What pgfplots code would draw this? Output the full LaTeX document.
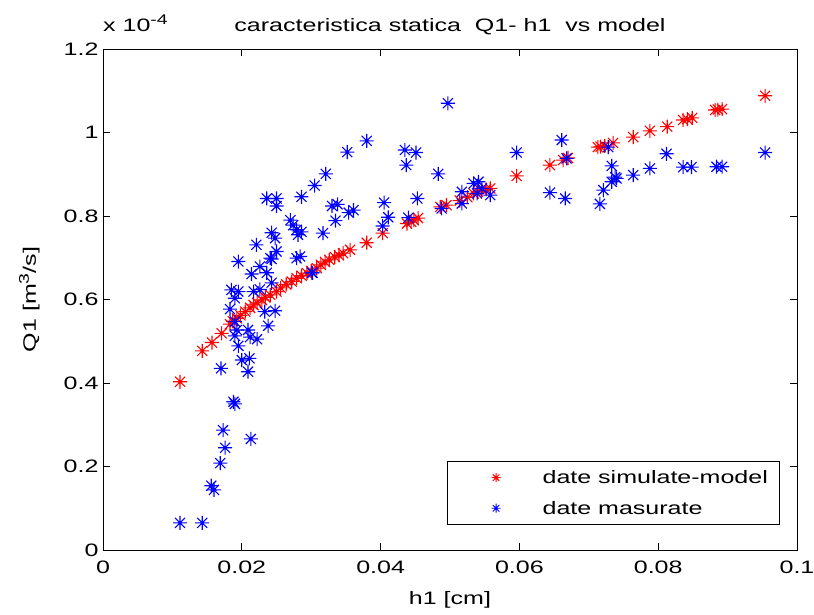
\documentclass[border=0pt]{standalone}
\usepackage{fontspec}
\setmainfont{Liberation Sans}[FakeStretch=1.39]
\usepackage{pgfplots}
\pgfplotsset{compat=1.18}

\newcommand{\fs}{\fontsize{18}{21}\selectfont}
\newcommand{\supr}[1]{\raisebox{7pt}{\fontsize{14}{14}\selectfont #1}}

% MATLAB style asterisk: plus and cross
\pgfdeclareplotmark{mstar}{%
  \pgfpathmoveto{\pgfqpoint{-\pgfplotmarksize}{0pt}}%
  \pgfpathlineto{\pgfqpoint{\pgfplotmarksize}{0pt}}%
  \pgfpathmoveto{\pgfqpoint{0pt}{-\pgfplotmarksize}}%
  \pgfpathlineto{\pgfqpoint{0pt}{\pgfplotmarksize}}%
  \pgfpathmoveto{\pgfqpoint{-0.72\pgfplotmarksize}{-0.72\pgfplotmarksize}}%
  \pgfpathlineto{\pgfqpoint{0.72\pgfplotmarksize}{0.72\pgfplotmarksize}}%
  \pgfpathmoveto{\pgfqpoint{-0.72\pgfplotmarksize}{0.72\pgfplotmarksize}}%
  \pgfpathlineto{\pgfqpoint{0.72\pgfplotmarksize}{-0.72\pgfplotmarksize}}%
  \pgfusepathqstroke}

\begin{document}
\begin{tikzpicture}
\useasboundingbox (-103pt,-64pt) rectangle (711pt,550pt);
\begin{axis}[
    scale only axis,
    width=694pt, height=501pt,
    xmin=0, xmax=0.1, ymin=0, ymax=1.2,
    clip mode=individual,
    xtick={0,0.02,0.04,0.06,0.08,0.1},
    xticklabels={0,0.02,0.04,0.06,0.08,0.1},
    ytick={0,0.2,0.4,0.6,0.8,1,1.2},
    yticklabels={0,0.2,0.4,0.6,0.8,1,1.2},
    tick align=inside,
    tick pos=both,
    major tick length=7pt,
    axis line style={line width=0.9pt},
    every tick/.style={black, line width=0.9pt},
    every tick label/.append style={font=\fs},
    xticklabel style={yshift=-7pt},
    yticklabel style={xshift=-1pt},
    label style={font=\fs},
    xlabel={h1 [cm]},
    ylabel={Q1 [m\supr{3}/s]},
    xlabel style={at={(axis description cs:0.5,-0.1)}, anchor=center},
    ylabel style={at={(axis description cs:-0.106,0.5)}, anchor=center},
    title={caracteristica statica\ \ Q1- h1\ \ vs model},
    title style={font=\fs, at={(axis description cs:0.5,1)}, anchor=base, yshift=11pt},
    legend cell align=left,
    legend style={
        at={(axis cs:0.0976,0.06)}, anchor=south east,
        font=\fs, draw=black, line width=0.9pt,
        row sep=12pt, inner ysep=7pt, inner xsep=10pt,
    },
    legend image code/.code={%
        \path (0pt,0pt) (82pt,0pt);
        \draw[#1, mark size=4.5pt, line width=0.9pt] plot coordinates {(38pt,0pt)};
    },
]

% date simulate-model (Q1 in 1e-4 m^3/s)
\addplot[only marks, red, mark=mstar, mark size=7pt, line width=1.1pt] coordinates {
(0.0111,0.403) (0.0143,0.477) (0.0157,0.497) (0.0171,0.519) (0.0183,0.541)
(0.0187,0.548) (0.0193,0.555) (0.0198,0.562) (0.0205,0.571) (0.0212,0.580)
(0.0217,0.587) (0.0222,0.592) (0.0229,0.599) (0.0234,0.605) (0.0241,0.611)
(0.0250,0.619) (0.0256,0.628) (0.0264,0.636) (0.0272,0.643) (0.0279,0.651)
(0.0286,0.657) (0.0294,0.663) (0.0300,0.668) (0.0308,0.675) (0.0314,0.683)
(0.0320,0.690) (0.0326,0.695) (0.0334,0.702) (0.0340,0.706) (0.0346,0.711)
(0.0356,0.719) (0.0380,0.736) (0.0403,0.759) (0.0438,0.782) (0.0444,0.786)
(0.0448,0.790) (0.0454,0.795) (0.0486,0.822) (0.0495,0.826) (0.0514,0.837)
(0.0525,0.845) (0.0534,0.854) (0.0540,0.858) (0.0546,0.862) (0.0552,0.864)
(0.0558,0.866) (0.0596,0.896) (0.0644,0.922) (0.0663,0.934) (0.0670,0.939)
(0.0713,0.965) (0.0717,0.966) (0.0723,0.968) (0.0735,0.975) (0.0764,0.989)
(0.0788,1.004) (0.0813,1.014) (0.0836,1.030) (0.0842,1.032) (0.0849,1.035)
(0.0882,1.054) (0.0886,1.055) (0.0892,1.056) (0.0954,1.088)
};

% date masurate
\addplot[only marks, blue, mark=mstar, mark size=7pt, line width=1.1pt] coordinates {
(0.0111,0.065) (0.0143,0.065) (0.0156,0.154) (0.0160,0.144) (0.0169,0.208)
(0.0176,0.245) (0.0173,0.287) (0.0213,0.266) (0.0188,0.355) (0.0190,0.350)
(0.0170,0.435) (0.0209,0.427) (0.0200,0.455) (0.0211,0.459) (0.0195,0.489)
(0.0190,0.513) (0.0212,0.510) (0.0222,0.505) (0.0193,0.527) (0.0209,0.527)
(0.0190,0.547) (0.0238,0.537) (0.0183,0.577) (0.0233,0.571) (0.0248,0.573)
(0.0190,0.603) (0.0185,0.623) (0.0195,0.619) (0.0217,0.619) (0.0226,0.624)
(0.0243,0.640) (0.0214,0.661) (0.0236,0.664) (0.0301,0.664) (0.0302,0.664)
(0.0226,0.679) (0.0195,0.691) (0.0241,0.699) (0.0243,0.697) (0.0279,0.699)
(0.0284,0.703) (0.0250,0.715) (0.0221,0.731) (0.0248,0.747) (0.0243,0.760)
(0.0317,0.759) (0.0286,0.762) (0.0281,0.755) (0.0279,0.767) (0.0274,0.778)
(0.0270,0.790) (0.0335,0.789) (0.0403,0.776) (0.0411,0.797) (0.0440,0.796)
(0.0354,0.808) (0.0361,0.814) (0.0330,0.824) (0.0338,0.828) (0.0250,0.824)
(0.0236,0.842) (0.0250,0.842) (0.0286,0.846) (0.0405,0.832) (0.0453,0.842)
(0.0305,0.873) (0.0321,0.901) (0.0352,0.953) (0.0380,0.980) (0.0435,0.958)
(0.0451,0.952) (0.0437,0.922) (0.0483,0.901) (0.0497,1.070) (0.0488,0.818)
(0.0517,0.830) (0.0517,0.858) (0.0534,0.878) (0.0541,0.882) (0.0546,0.866)
(0.0539,0.854) (0.0558,0.850) (0.0596,0.952) (0.0661,0.982) (0.0668,0.938)
(0.0644,0.856) (0.0666,0.842) (0.0716,0.829) (0.0721,0.862) (0.0733,0.882)
(0.0738,0.893) (0.0740,0.890) (0.0733,0.920) (0.0728,0.965) (0.0764,0.898)
(0.0788,0.914) (0.0812,0.949) (0.0836,0.917) (0.0848,0.917) (0.0884,0.918)
(0.0892,0.918) (0.0954,0.952)
};

\legend{date simulate-model, date masurate}

\node[font=\fs, anchor=base west, inner sep=0pt] at ([yshift=17pt]rel axis cs:0,1) {x 10\supr{-4}};
\end{axis}
\end{tikzpicture}
\end{document}
